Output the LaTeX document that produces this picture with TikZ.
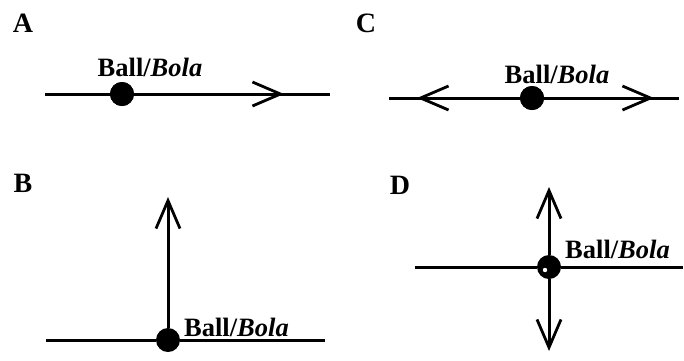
\documentclass[tikz,border=0pt]{standalone}
\usepackage{fontspec}
\setmainfont{Liberation Serif}
\usetikzlibrary{arrows.meta}
\begin{document}
\begin{tikzpicture}[x=1pt,y=-1pt,
  rod/.style={line width=3pt},
  ball/.style={circle,fill=black,minimum size=24pt,inner sep=0pt},
  barb/.style={line width=3pt,-{Straight Barb[length=28pt,width=24pt,line width=2.8pt]}},
  panel/.style={font=\fontsize{28}{30}\selectfont\bfseries},
  lbl/.style={font=\fontsize{26.5}{28}\selectfont\bfseries,inner sep=0pt}]
\useasboundingbox (0,0) rectangle (684,360);
% Panel A
\node[panel] (la) at (23,23) {A};
\coordinate (a1) at (45,94);
\coordinate (a2) at (330,94);
\coordinate (at) at (284,94);
\node[ball] (ba) at (122,94) {};
\draw[rod] (a1) -- (a2);
\draw[barb] (ba) -- (at);
\node[ball] at (ba) {};
\node[lbl,anchor=base] (ta) at (150,76) {Ball/\textit{Bola}};
% Panel C
\node[panel] (lc) at (366,23) {C};
\coordinate (c1) at (389,98);
\coordinate (c2) at (679,98);
\coordinate (cl) at (417,98);
\coordinate (cr) at (654,98);
\node[ball] (bc) at (532,98) {};
\draw[rod] (c1) -- (c2);
\draw[barb] (bc) -- (cl);
\draw[barb] (bc) -- (cr);
\node[ball] at (bc) {};
\node[lbl,anchor=base] (tc) at (557,83) {Ball/\textit{Bola}};
% Panel B
\node[panel] (lb) at (23,183) {B};
\coordinate (b1) at (46,340);
\coordinate (b2) at (325,340);
\coordinate (bt) at (168,197);
\node[ball] (bb) at (168,340) {};
\draw[rod] (b1) -- (bb) -- (b2);
\draw[barb] (bb) -- (bt);
\node[lbl,anchor=base west] (tb) at (184,336) {Ball/\textit{Bola}};
% Panel D
\node[panel] (ld) at (400,185) {D};
\coordinate (d1) at (415,267);
\coordinate (d2) at (683,267);
\coordinate (du) at (549,187);
\coordinate (dd) at (549,351);
\node[ball] (bd) at (549,267) {};
\draw[rod] (d1) -- (bd) -- (d2);
\draw[barb] (bd) -- (du);
\draw[barb] (bd) -- (dd);
\fill[white] ([shift={(-4pt,-3pt)}]bd.center) circle (2.2pt);
\node[lbl,anchor=base west] (td) at (565,258) {Ball/\textit{Bola}};
\end{tikzpicture}
\end{document}
